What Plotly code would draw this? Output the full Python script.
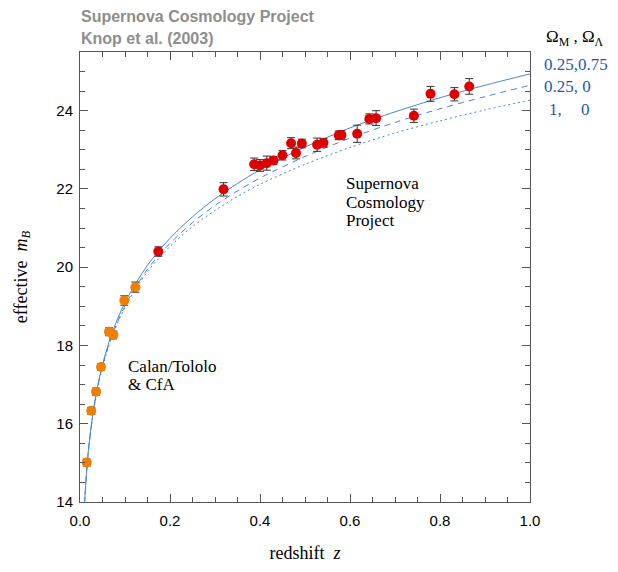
import plotly.graph_objects as go

# Low-redshift supernovae (Calan/Tololo & CfA)
z_low = [0.0149, 0.0251, 0.0356, 0.0467, 0.0644, 0.0740, 0.0984, 0.1230]
m_low = [15.01, 16.33, 16.82, 17.45, 18.35, 18.27, 19.15, 19.49]
e_low = [0.09, 0.09, 0.09, 0.08, 0.10, 0.10, 0.12, 0.13]

# High-redshift supernovae (Supernova Cosmology Project)
z_high = [0.174, 0.319, 0.387, 0.400, 0.415, 0.430, 0.450, 0.469, 0.480, 0.493,
          0.527, 0.541, 0.575, 0.581, 0.616, 0.643, 0.658, 0.742, 0.779, 0.832, 0.865]
m_high = [20.40, 21.99, 22.63, 22.60, 22.66, 22.73, 22.86, 23.17, 22.92, 23.16,
          23.13, 23.18, 23.37, 23.38, 23.41, 23.79, 23.81, 23.87, 24.43, 24.42, 24.62]
e_high = [0.12, 0.17, 0.16, 0.15, 0.18, 0.10, 0.12, 0.14, 0.15, 0.11,
          0.17, 0.11, 0.11, 0.11, 0.22, 0.13, 0.19, 0.17, 0.19, 0.17, 0.20]

# Model magnitude-redshift curves
z_model = [0.01, 0.015, 0.02, 0.03, 0.04, 0.05, 0.07, 0.10, 0.15, 0.20,
           0.25, 0.30, 0.35, 0.40, 0.50, 0.60, 0.70, 0.80, 0.90, 1.00]
m_flat_lambda = [13.95, 14.84, 15.47, 16.37, 17.01, 17.51, 18.28, 19.10, 20.05, 20.74,
                 21.29, 21.75, 22.14, 22.49, 23.07, 23.56, 23.97, 24.33, 24.65, 24.94]
m_open = [13.94, 14.83, 15.45, 16.34, 16.98, 17.47, 18.22, 19.02, 19.95, 20.61,
          21.14, 21.58, 21.95, 22.28, 22.83, 23.30, 23.70, 24.05, 24.36, 24.65]
m_einstein = [13.94, 14.82, 15.45, 16.33, 16.96, 17.45, 18.19, 18.98, 19.89, 20.53,
              21.04, 21.45, 21.81, 22.12, 22.63, 23.06, 23.43, 23.74, 24.02, 24.27]

x_ticks = [0.0, 0.2, 0.4, 0.6, 0.8, 1.0]
y_ticks = [14, 16, 18, 20, 22, 24]

curve_color = "#4a86c8"
label_blue = "#1f5aa6"
serif = "Liberation Serif, Times New Roman, serif"
sans = "Liberation Sans, Arial, Helvetica, sans-serif"

fig = go.Figure()

for m_vals, dash in [(m_flat_lambda, "solid"), (m_open, "6px,5px"), (m_einstein, "2px,3px")]:
    fig.add_trace(go.Scatter(
        x=z_model, y=m_vals, mode="lines",
        line=dict(color=curve_color, width=1, dash=dash, shape="spline", smoothing=0.8),
        showlegend=False, hoverinfo="skip",
    ))

fig.add_trace(go.Scatter(
    x=z_low, y=m_low, mode="markers",
    marker=dict(color="#f07f00", size=10, symbol="circle"),
    error_y=dict(type="data", array=e_low, color="#333333", thickness=1, width=4),
    showlegend=False,
))
fig.add_trace(go.Scatter(
    x=z_high, y=m_high, mode="markers",
    marker=dict(color="#dd0000", size=10, symbol="circle"),
    error_y=dict(type="data", array=e_high, color="#333333", thickness=1, width=4),
    showlegend=False,
))

axis_common = dict(
    showgrid=False, zeroline=False, showline=True, linecolor="#555555", linewidth=1,
    mirror="ticks", ticks="inside", ticklen=8, tickcolor="#555555", tickwidth=1,
    tickfont=dict(family=sans, size=15, color="black"),
)

fig.update_xaxes(
    range=[0, 1.0], tickvals=x_ticks, tickformat=".1f", ticklabelstandoff=5,
    minor=dict(dtick=0.05, ticks="inside", ticklen=5, tickcolor="#555555"),
    title=dict(text="redshift  <i>z</i>", font=dict(family=serif, size=18, color="black"), standoff=18),
    **axis_common,
)
fig.update_yaxes(
    range=[14, 25.5], tickvals=y_ticks, ticklabelstandoff=3,
    minor=dict(dtick=0.5, ticks="inside", ticklen=5, tickcolor="#555555"),
    title=dict(text="effective  <i>m<sub>B</sub></i>", font=dict(family=serif, size=18, color="black"), standoff=24),
    **axis_common,
)

def px_x(p):
    return (p - 80) / 450

def px_y(p):
    return (505 - p) / 453

annotations = [
    dict(text="<b>Supernova Cosmology Project</b>", x=px_x(79), y=px_y(16), xanchor="left",
         font=dict(family=sans, size=16, color="#8e8e8e")),
    dict(text="<b>Knop et al. (2003)</b>", x=px_x(79), y=px_y(38), xanchor="left",
         font=dict(family=sans, size=16, color="#8e8e8e")),
    dict(text="Ω<sub>M</sub> , Ω<sub>Λ</sub>", x=px_x(544), y=px_y(38), xanchor="left",
         font=dict(family=serif, size=17, color="black")),
    dict(text="0.25,0.75", x=px_x(542), y=px_y(65), xanchor="left",
         font=dict(family=serif, size=17, color=label_blue)),
    dict(text="0.25, 0", x=px_x(542), y=px_y(87), xanchor="left",
         font=dict(family=serif, size=17, color=label_blue)),
    dict(text="1,", x=px_x(547), y=px_y(110), xanchor="left",
         font=dict(family=serif, size=17, color=label_blue)),
    dict(text="0", x=px_x(592), y=px_y(110), xanchor="right",
         font=dict(family=serif, size=17, color=label_blue)),
    dict(text="Supernova", x=px_x(344), y=px_y(184), xanchor="left",
         font=dict(family=serif, size=17, color="black")),
    dict(text="Cosmology", x=px_x(344), y=px_y(203), xanchor="left",
         font=dict(family=serif, size=17, color="black")),
    dict(text="Project", x=px_x(344), y=px_y(222), xanchor="left",
         font=dict(family=serif, size=17, color="black")),
    dict(text="Calan/Tololo", x=px_x(126), y=px_y(369), xanchor="left",
         font=dict(family=serif, size=17, color="black")),
    dict(text="&amp; CfA", x=px_x(126), y=px_y(387), xanchor="left",
         font=dict(family=serif, size=17, color="black")),
]
for a in annotations:
    a.update(xref="paper", yref="paper", yanchor="middle", showarrow=False)

fig.update_layout(
    width=618, height=572,
    margin=dict(l=80, r=88, t=52, b=67),
    paper_bgcolor="white", plot_bgcolor="white",
    annotations=annotations,
)

fig.write_html("out.html")
